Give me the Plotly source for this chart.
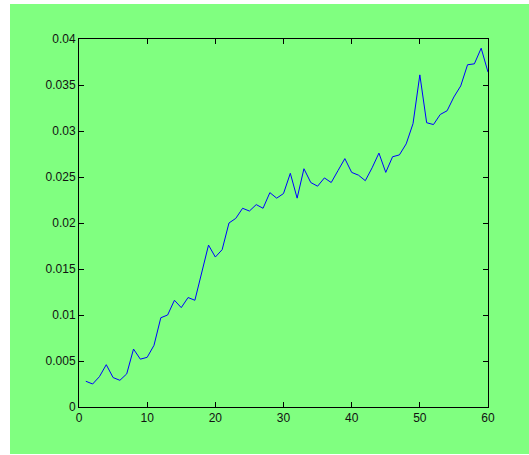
import plotly.graph_objects as go

x_vals = list(range(1, 61))
y_vals = [
    0.0028, 0.0025, 0.0033, 0.0046, 0.0032, 0.0029, 0.0036, 0.0063, 0.0052, 0.0054,
    0.0067, 0.0097, 0.0100, 0.0116, 0.0108, 0.0119, 0.0116, 0.0147, 0.0176, 0.0163,
    0.0171, 0.0200, 0.0205, 0.0216, 0.0213, 0.0220, 0.0216, 0.0233, 0.0227, 0.0232,
    0.0254, 0.0227, 0.0259, 0.0244, 0.0240, 0.0249, 0.0244, 0.0257, 0.0270, 0.0255,
    0.0252, 0.0246, 0.0260, 0.0276, 0.0255, 0.0272, 0.0274, 0.0286, 0.0308, 0.0361,
    0.0309, 0.0307, 0.0318, 0.0322, 0.0337, 0.0349, 0.0372, 0.0373, 0.0390, 0.0364,
]
x_ticks = [0, 10, 20, 30, 40, 50, 60]
y_ticks = [0, 0.005, 0.01, 0.015, 0.02, 0.025, 0.03, 0.035, 0.04]
y_tick_labels = ["0", "0.005", "0.01", "0.015", "0.02", "0.025", "0.03", "0.035", "0.04"]

GREEN = "#80FF80"

fig = go.Figure()
fig.add_trace(go.Scatter(x=x_vals, y=y_vals, mode="lines",
                         line=dict(color="#0000FF", width=1), hoverinfo="skip"))

W, H = 529, 455
L, R, T, B = 79, 41, 39, 48
pw, ph = W - L - R, H - T - B

def px_x(p):
    return (p - L) / pw

def px_y(p):
    return (H - B - p) / ph

fig.add_shape(type="rect", xref="paper", yref="paper",
              x0=px_x(10), x1=px_x(530), y0=px_y(454), y1=px_y(4),
              fillcolor=GREEN, line=dict(width=0), layer="below")

axis_common = dict(showgrid=False, zeroline=False, showline=True, linecolor="black",
                   linewidth=1, mirror="ticks", ticks="inside", ticklen=5,
                   tickcolor="black", tickwidth=1,
                   tickfont=dict(family="Liberation Sans, Arial, sans-serif", size=12, color="#111111"))

fig.update_xaxes(range=[0, 60], tickvals=x_ticks, **axis_common)
fig.update_yaxes(range=[0, 0.04], tickvals=y_ticks, ticktext=y_tick_labels, **axis_common)

fig.update_layout(width=W, height=H, margin=dict(l=L, r=R, t=T, b=B),
                  paper_bgcolor="white", plot_bgcolor="rgba(0,0,0,0)",
                  showlegend=False)

fig.write_html("out.html", config={"displayModeBar": False, "staticPlot": True},
               post_script="document.body.style.margin='0';document.body.style.overflow='hidden';")
